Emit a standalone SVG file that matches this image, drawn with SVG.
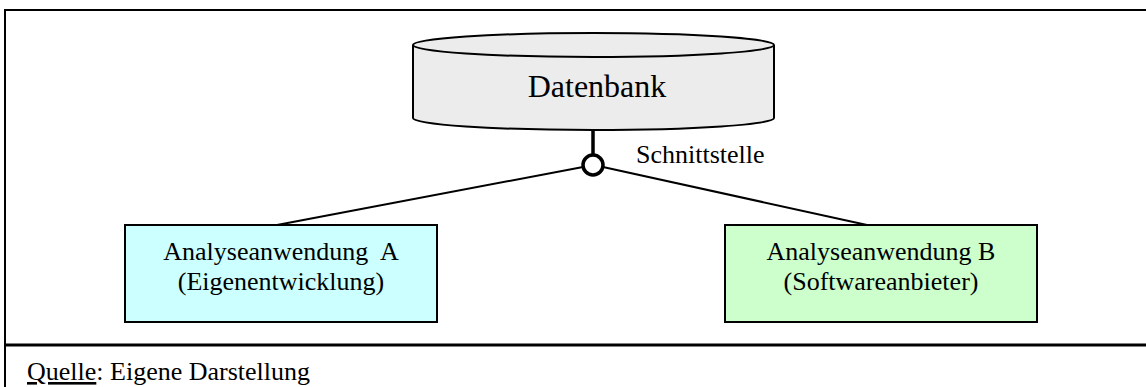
<svg xmlns="http://www.w3.org/2000/svg" width="1146" height="387" viewBox="0 0 1146 387">
<style>
text{font-family:"Liberation Serif","Times New Roman",serif;fill:#000}
.lbl{font-size:26px;text-anchor:middle}
.box{stroke:#000;stroke-width:2}
.conn{stroke:#000;stroke-width:2;fill:none}
.stem{stroke:#000;stroke-width:3.5;fill:none}
</style>
<rect x="0" y="0" width="1146" height="387" fill="#fff"/>
<g id="frame" stroke="#000" fill="none">
<line x1="4" y1="10" x2="1146" y2="10" stroke-width="2"/>
<line x1="5" y1="9" x2="5" y2="387" stroke-width="2"/>
<line x1="4" y1="345" x2="1146" y2="345" stroke-width="3"/>
</g>
<g id="connectors">
<line class="stem" x1="593" y1="130" x2="593" y2="156"/>
<line class="conn" x1="583" y1="167" x2="277" y2="225"/>
<line class="conn" x1="603" y1="167" x2="867" y2="225"/>
<circle cx="593" cy="165" r="10" fill="#fff" stroke="#000" stroke-width="3.5"/>
<text x="636" y="163" style="font-size:26px">Schnittstelle</text>
</g>
<g id="datenbank">
<path d="M413 45 V118 A180.5 12 0 0 0 774 118 V45" fill="#ececec" stroke="#000" stroke-width="2"/>
<ellipse cx="593.5" cy="45" rx="180.5" ry="12" fill="#ececec" stroke="#000" stroke-width="2"/>
<text x="597" y="97" style="font-size:32px;text-anchor:middle">Datenbank</text>
</g>
<g id="appA">
<rect class="box" x="125" y="225" width="312" height="97" fill="#ccffff"/>
<text class="lbl" x="281" y="260" xml:space="preserve">Analyseanwendung  A</text>
<text class="lbl" x="281" y="290">(Eigenentwicklung)</text>
</g>
<g id="appB">
<rect class="box" x="725" y="225" width="312" height="97" fill="#ccffcc"/>
<text class="lbl" x="881" y="260">Analyseanwendung B</text>
<text class="lbl" x="881" y="290">(Softwareanbieter)</text>
</g>
<g id="source">
<text x="27" y="380" style="font-size:26px"><tspan text-decoration="underline">Quelle</tspan>: Eigene Darstellung</text>
</g>
</svg>
